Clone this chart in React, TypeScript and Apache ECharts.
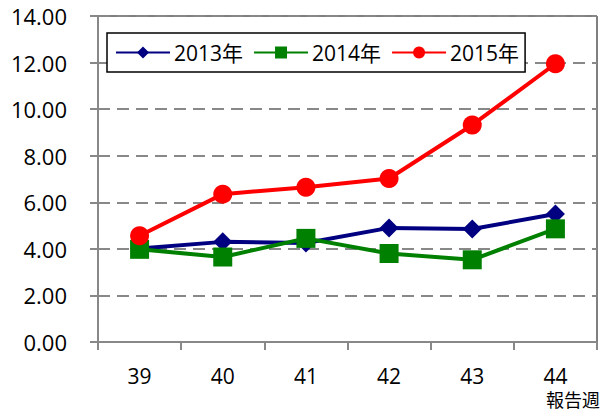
import React, { useEffect, useRef } from "react";
import * as echarts from "echarts";

const weeks = ["39", "40", "41", "42", "43", "44"];
const seriesNames = ["2013年", "2014年", "2015年"];
const values2013 = [4.02, 4.3, 4.25, 4.9, 4.85, 5.5];
const values2014 = [3.98, 3.65, 4.45, 3.8, 3.53, 4.86];
const values2015 = [4.56, 6.35, 6.65, 7.02, 9.32, 11.95];
const yTicks = { min: 0, max: 14, interval: 2 };
const xAxisTitle = "報告週";

const FONT = "'Open Sans', 'Noto Sans CJK JP', sans-serif";

export default function App() {
  const ref = useRef<HTMLDivElement>(null);
  useEffect(() => {
    if (!ref.current) return;
    const chart = echarts.init(ref.current, undefined, { renderer: "svg" });
    const mk = (name: string, data: number[], color: string, symbol: string, size: number) => ({
      name,
      type: "line",
      data,
      symbol,
      symbolSize: size,
      showAllSymbol: true,
      lineStyle: { color, width: 4 },
      itemStyle: { color },
      emphasis: { disabled: true },
    });
    chart.setOption({
      animation: false,
      backgroundColor: "#fff",
      textStyle: { fontFamily: FONT },
      grid: {
        left: 98,
        right: 6,
        top: 16,
        bottom: 70,
        show: true,
        borderColor: "#000",
        borderWidth: 1,
        backgroundColor: "transparent",
      },
      legend: {
        left: 107,
        top: 33,
        padding: [9, 6, 9, 8],
        itemGap: 10,
        itemWidth: 54,
        itemHeight: 15,
        borderColor: "#000",
        borderWidth: 1.5,
        backgroundColor: "#fff",
        textStyle: { fontSize: 21, color: "#000", fontFamily: FONT, padding: [0, 0, 0, -1] },
        data: seriesNames,
      },
      xAxis: {
        type: "category",
        data: weeks,
        boundaryGap: true,
        axisLine: { lineStyle: { color: "#888", width: 2 } },
        axisTick: { show: true, length: 8, alignWithLabel: false, lineStyle: { color: "#888", width: 2 } },
        axisLabel: { fontSize: 21, lineHeight: 22, color: "#000", margin: 23, fontFamily: FONT },
        splitLine: { show: false },
      },
      yAxis: {
        type: "value",
        min: yTicks.min,
        max: yTicks.max,
        interval: yTicks.interval,
        axisLine: { show: true, lineStyle: { color: "#888", width: 2 } },
        axisTick: { show: true, length: 8, lineStyle: { color: "#888", width: 2 } },
        axisLabel: {
          fontSize: 22,
          color: "#000",
          margin: 31,
          fontFamily: FONT,
          formatter: (v: number) => v.toFixed(2),
        },
        splitLine: { show: true, lineStyle: { color: "#888", width: 2, type: [12, 7] } },
      },
      graphic: [
        {
          type: "text",
          right: 3,
          top: 390,
          style: { text: xAxisTitle, fontSize: 18, lineHeight: 19, fill: "#000", fontFamily: FONT },
        },
      ],
      series: [
        mk(seriesNames[0], values2013, "#000080", "diamond", 19),
        mk(seriesNames[1], values2014, "#008000", "rect", 19),
        mk(seriesNames[2], values2015, "#ff0000", "circle", 19),
      ],
    });
    return () => chart.dispose();
  }, []);
  return (
    <div
      ref={ref}
      style={{ position: "absolute", left: 0, top: 0, width: 603, height: 412 }}
    />
  );
}
